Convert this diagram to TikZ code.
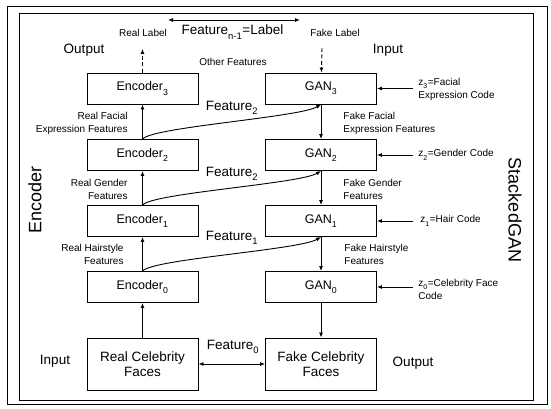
\documentclass[tikz,border=0pt]{standalone}
\usepackage{fontspec}
\setmainfont{Liberation Sans}
\usetikzlibrary{arrows.meta,positioning}
\newcommand{\lowsub}[1]{\raisebox{-.35ex}{\textsubscript{#1}}}

\begin{document}
\begin{tikzpicture}[x=1pt,y=-1pt,>={Latex[length=5pt,width=4pt]},line width=.9pt,
  box/.style={draw,minimum width=111pt,minimum height=31pt,font=\fontsize{12.5}{14}\selectfont},
  facebox/.style={draw,minimum width=111pt,minimum height=52pt,align=center,font=\fontsize{13.5}{15}\selectfont},
  small/.style={font=\fontsize{10}{13}\selectfont,inner sep=0pt},
  mid/.style={font=\fontsize{13.5}{15}\selectfont,inner sep=0pt},
  side/.style={font=\fontsize{18}{20}\selectfont,inner sep=0pt}]
\useasboundingbox (0,0) rectangle (551,409);
\draw[line width=.8pt] (7,6) rectangle (547,404);
\draw[line width=.8pt] (19,13) rectangle (533,400);
% encoder stack
\node[box] (e3) at (142.5,88.5){Encoder\lowsub{3}};
\node[box] (e2) at (142.5,155){Encoder\lowsub{2}};
\node[box] (e1) at (142.5,221){Encoder\lowsub{1}};
\node[box] (e0) at (142.5,287){Encoder\lowsub{0}};
\node[facebox] (rf) at (142.5,364){Real Celebrity\\Faces};
% gan stack
\node[box] (g3) at (321,88.5){GAN\lowsub{3}};
\node[box] (g2) at (321,155){GAN\lowsub{2}};
\node[box] (g1) at (321,221){GAN\lowsub{1}};
\node[box] (g0) at (321,287){GAN\lowsub{0}};
\node[facebox] (ff) at (321,364){Fake Celebrity\\Faces};
\draw[->] (rf)--(e0);\draw[->] (e0)--(e1);\draw[->] (e1)--(e2);\draw[->] (e2)--(e3);
\draw[->] (g3)--(g2);\draw[->] (g2)--(g1);\draw[->] (g1)--(g0);\draw[->] (g0)--(ff);
\draw[<->] (rf)--(ff);
% features passed across
\draw[->] (e2.north) .. controls +(10,-12) and +(-22,13) .. (g3.south);
\draw[->] (e1.north) .. controls +(10,-12) and +(-22,13) .. (g2.south);
\draw[->] (e0.north) .. controls +(10,-12) and +(-22,13) .. (g1.south);
\node[mid] (f2a) at (232,108){Feature\lowsub{2}};
\node[mid] (f2b) at (232,174){Feature\lowsub{2}};
\node[mid] (f1) at (232,238){Feature\lowsub{1}};
\node[mid] (f0) at (233,347){Feature\lowsub{0}};
% labels on top
\node[small] (rl) at (143,33){Real Label};
\node[small] (fl) at (335,33){Fake Label};
\coordinate (rt) at (142.5,49);\coordinate (ft) at (322,48);
\draw[->,dash pattern=on 4pt off 2.5pt] (e3)--(rt);
\draw[->,dash pattern=on 4pt off 2.5pt] (ft)--(g3);
\coordinate (la) at (168,20);\coordinate (lb) at (300,20);
\draw[<->] (la)--(lb);
\node[mid] (fn) at (232.5,32){Feature\lowsub{n-1}=Label};
\node[small] (of) at (233,62){Other Features};
\node[mid] (out1) at (84,50){Output};
\node[mid] (in1) at (388,50){Input};
\node[mid] (in0) at (55,361){Input};
\node[mid] (out0) at (413,363){Output};
% real / fake features
\node[small,align=right,anchor=east] (rff) at (128,123.5){Real Facial\\Expression Features};
\node[small,align=right,anchor=east] (rgf) at (128,189){Real Gender\\Features};
\node[small,align=right,anchor=east] (rhf) at (124,254){Real Hairstyle\\Features};
\node[small,align=left,anchor=west] (fff) at (343,123.5){Fake Facial\\Expression Features};
\node[small,align=left,anchor=west] (fgf) at (343,189){Fake Gender\\Features};
\node[small,align=left,anchor=west] (fhf) at (344,254){Fake Hairstyle\\Features};
% codes
\node[small,align=left,anchor=west] (z3) at (418,89){z\lowsub{3}=Facial\\Expression Code};
\node[small,align=left,anchor=west] (z2) at (418,155){z\lowsub{2}=Gender Code};
\node[small,align=left,anchor=west] (z1) at (420,221){z\lowsub{1}=Hair Code};
\node[small,align=left,anchor=west] (z0) at (418,289){z\lowsub{0}=Celebrity Face\\Code};
\foreach \i/\y in {3/88.5,2/155,1/221,0/287}{
  \coordinate (zs\i) at (413,\y);
  \draw[->] (zs\i)--(g\i.east);}
\node[side,rotate=90] (enc) at (35,200){Encoder};
\node[side,rotate=-90] (sg) at (515,210){StackedGAN};
\end{tikzpicture}
\end{document}
